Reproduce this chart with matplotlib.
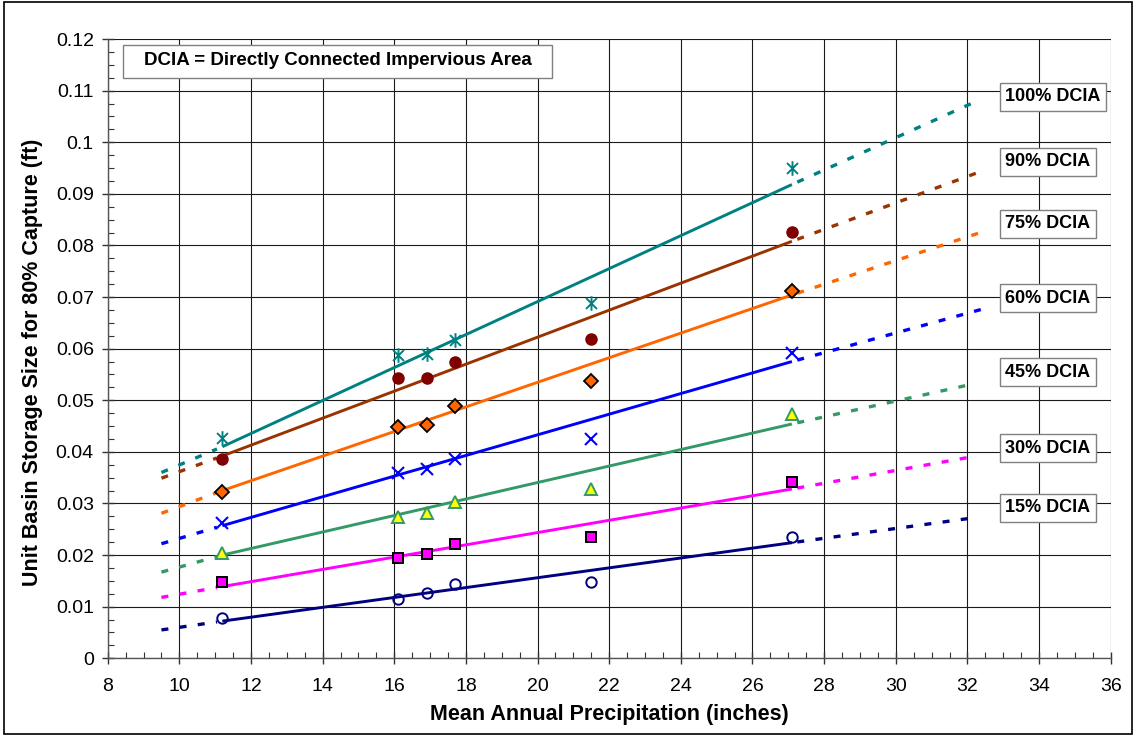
import matplotlib
matplotlib.use("Agg")
import matplotlib.pyplot as plt
from matplotlib.path import Path
from matplotlib.patches import Rectangle
from matplotlib.ticker import MultipleLocator

plt.rcParams['font.family'] = ['Liberation Sans', 'DejaVu Sans']

# ---- data ----
precip = [11.2, 16.1, 16.9, 17.7, 21.5, 27.1]
d100 = [0.0426, 0.0588, 0.0590, 0.0617, 0.0688, 0.0950]
d90 = [0.0386, 0.0543, 0.0543, 0.0575, 0.0619, 0.0826]
d75 = [0.0323, 0.0448, 0.0452, 0.0489, 0.0538, 0.0712]
d60 = [0.0262, 0.0359, 0.0366, 0.0387, 0.0425, 0.0591]
d45 = [0.0205, 0.0274, 0.0281, 0.0303, 0.0328, 0.0473]
d30 = [0.0147, 0.0194, 0.0203, 0.0221, 0.0236, 0.0341]
d15 = [0.0079, 0.0114, 0.0127, 0.0144, 0.0148, 0.0236]

series_labels = ["100% DCIA", "90% DCIA", "75% DCIA", "60% DCIA",
                 "45% DCIA", "30% DCIA", "15% DCIA"]

# trend lines
fit_x = [11.2, 27.1]
fit_at_lo = [0.0410, 0.0392, 0.0325, 0.0257, 0.0200, 0.0139, 0.0072]
fit_at_hi = [0.0918, 0.0808, 0.0704, 0.0575, 0.0454, 0.0328, 0.0224]
ext_left_x = 9.5
ext_left_y = [0.0360, 0.0349, 0.0281, 0.0222, 0.0167, 0.0118, 0.0055]
ext_right_x = [32.24, 32.4, 32.45, 32.49, 32.12, 32.17, 32.15]
ext_right_y = [0.1079, 0.0944, 0.0827, 0.0678, 0.0531, 0.0391, 0.0272]

# ---- styles ----
asterisk = Path([(0, -1), (0, 1), (-0.75, -0.75), (0.75, 0.75),
                 (-0.75, 0.75), (0.75, -0.75)],
                [Path.MOVETO, Path.LINETO, Path.MOVETO, Path.LINETO,
                 Path.MOVETO, Path.LINETO])

line_colors = ["#008080", "#993300", "#FF6600", "#0000FF",
               "#339966", "#FF00FF", "#000080"]
marker_styles = [
    dict(marker=asterisk, ms=10.5, mfc='none', mec="#008080", mew=1.4),
    dict(marker='o', ms=8, mfc="#800000", mec="#800000", mew=1),
    dict(marker='D', ms=7, mfc="#FF6600", mec="black", mew=1.3),
    dict(marker='x', ms=8.5, mfc='none', mec="#0000FF", mew=1.5),
    dict(marker='^', ms=8.5, mfc="#FFFF00", mec="#339966", mew=1.4),
    dict(marker='s', ms=7.5, mfc="#FF00FF", mec="black", mew=1.4),
    dict(marker='o', ms=7.5, mfc='none', mec="#000080", mew=1.4),
]
label_y = [0.1088, 0.0962, 0.0842, 0.0698, 0.0554, 0.0407, 0.0292]

data = [d100, d90, d75, d60, d45, d30, d15]

W, H = 1135, 736
fig = plt.figure(figsize=(W / 100, H / 100), dpi=100)
ax = fig.add_axes([107.7 / W, 1 - 658.3 / H, (1110.7 - 107.7) / W, (658.3 - 39) / H])

dash = (0, (2.1, 3.4))
for i in range(7):
    c = line_colors[i]
    ax.plot(fit_x, [fit_at_lo[i], fit_at_hi[i]], color=c, lw=2.1,
            solid_capstyle='butt', zorder=3)
    xl_end = fit_x[0] - 0.15
    ax.plot([ext_left_x, xl_end],
            [ext_left_y[i], ext_left_y[i] + (fit_at_lo[i] - ext_left_y[i]) * (xl_end - ext_left_x) / (fit_x[0] - ext_left_x)],
            color=c, lw=2.4, linestyle=dash, dash_capstyle='butt', zorder=3)
    xr_start = fit_x[1] + 0.15
    ax.plot([xr_start, ext_right_x[i]],
            [fit_at_hi[i] + (ext_right_y[i] - fit_at_hi[i]) * 0.15 / (ext_right_x[i] - fit_x[1]), ext_right_y[i]],
            color=c, lw=2.4, linestyle=dash, dash_capstyle='butt', zorder=3)
    ax.plot(precip, data[i], linestyle='none', zorder=4, **marker_styles[i])

ax.set_xlim(8, 36)
ax.set_ylim(0, 0.12)
ax.xaxis.set_major_locator(MultipleLocator(2))
ax.xaxis.set_minor_locator(MultipleLocator(0.5))
ax.yaxis.set_minor_locator(MultipleLocator(0.0025))
ax.set_yticks([i * 0.01 for i in range(13)])
ax.set_yticklabels(["0"] + ["%g" % (i * 0.01) for i in range(1, 13)])
ax.grid(True, which='major', color='#1a1a1a', lw=0.8)
ax.set_axisbelow(True)
for s in ['top', 'right']:
    ax.spines[s].set_visible(False)
for s in ['left', 'bottom']:
    ax.spines[s].set_color('#555555')
    ax.spines[s].set_linewidth(1.0)
ax.tick_params(which='major', direction='inout', length=8, width=1,
               color='#333333', labelsize=14, pad=6)
ax.tick_params(which='minor', direction='in', length=4, width=0.8,
               color='#333333')
ax.tick_params(axis='x', which='major', pad=10)

ax.set_xlabel("Mean Annual Precipitation (inches)", fontsize=15.5,
              fontweight='bold', labelpad=7)
ax.set_ylabel("Unit Basin Storage Size for 80% Capture (ft)", fontsize=15.5,
              fontweight='bold')
ax.yaxis.set_label_coords(-0.065, 0.478)

# legend note box
ax.add_patch(Rectangle((0.0153, 0.937), 0.4277, 0.053, transform=ax.transAxes,
                       fc='white', ec='#808080', lw=1, zorder=6))
ax.text(0.2295, 0.9645, "DCIA = Directly Connected Impervious Area",
        transform=ax.transAxes, ha='center', va='center', fontsize=13.5,
        fontweight='bold', zorder=7)

# series labels on right
for i in range(7):
    ax.text(33.05, label_y[i], series_labels[i], ha='left', va='center',
            fontsize=13, fontweight='bold', zorder=6, clip_on=False,
            bbox=dict(boxstyle='square,pad=0.3', fc='white', ec='#808080', lw=1))

# outer frame
fig.patches.append(Rectangle((4 / W, 2 / H), 1 - 7 / W, 1 - 4 / H,
                             transform=fig.transFigure, fill=False,
                             ec='black', lw=1.2))

fig.savefig("out.png", dpi=100)
